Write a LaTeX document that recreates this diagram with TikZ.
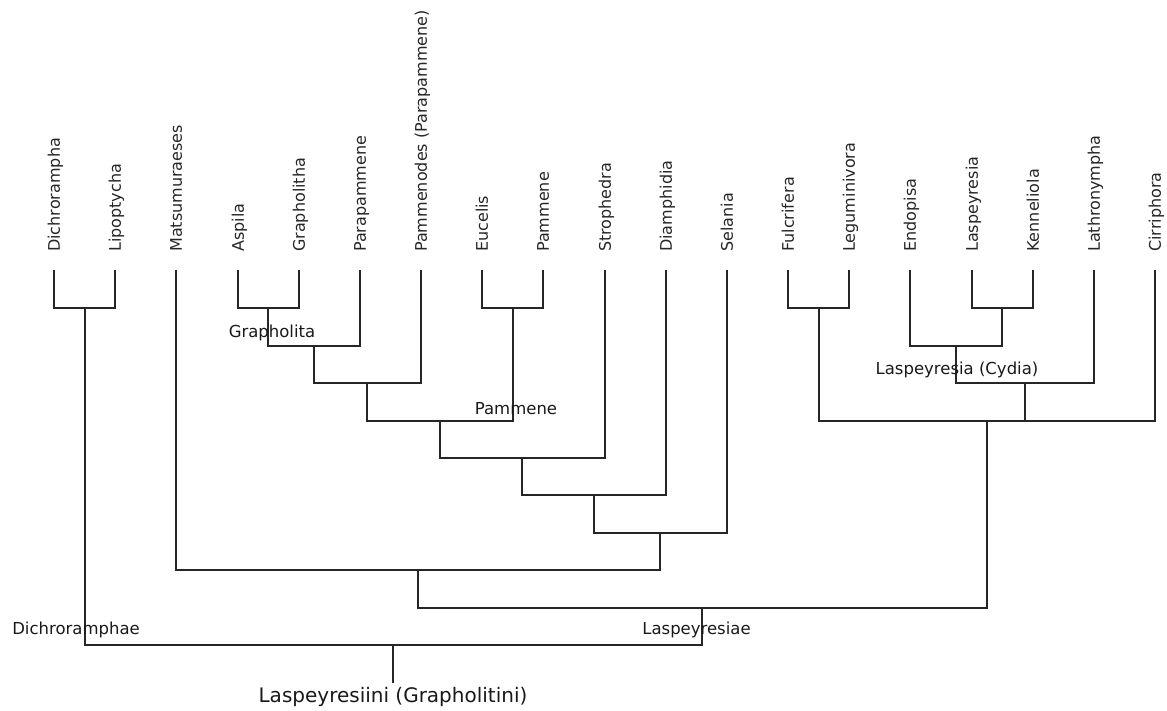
\documentclass[tikz,border=0pt]{standalone}
\usepackage{fontspec}
\newfontfamily\labfont{DejaVu Sans}
\begin{document}
\begin{tikzpicture}[x=1pt,y=-1pt,
  branch/.style={line width=1.5pt,draw=black!85},
  leaf/.style={rotate=90,anchor=base west,inner sep=0pt,font=\labfont\fontsize{16}{19}\selectfont,text=black!85},
  clade/.style={anchor=center,inner sep=0pt,font=\labfont\fontsize{16.5}{19}\selectfont,text=black!90},
  rootlab/.style={anchor=center,inner sep=0pt,font=\labfont\fontsize{20}{24}\selectfont,text=black!90}]
\useasboundingbox (0,0) rectangle (1167,711);
% leaves
\foreach \n/\x [count=\i from 0] in {Dichrorampha/54,Lipoptycha/115,Matsumuraeses/176,Aspila/238,Grapholitha/299,Parapammene/360,Pammenodes (Parapammene)/421,Eucelis/482,Pammene/543,Strophedra/605,Diamphidia/666,Selania/727,Fulcrifera/788,Leguminivora/849,Endopisa/910,Laspeyresia/972,Kenneliola/1033,Lathronympha/1094,Cirriphora/1155}{
  \coordinate (l\i) at (\x,270);
  \node[leaf] (t\i) at (\x+5.8,252) {\n};
}
% internal nodes
\coordinate (A) at (85,308);
\coordinate (G) at (268,308);
\coordinate (P) at (513,308);
\coordinate (F) at (819,308);
\coordinate (K) at (1002,308);
\coordinate (G2) at (314,346);
\coordinate (E) at (956,346);
\coordinate (G3) at (367,383);
\coordinate (C) at (1025,383);
\coordinate (G4) at (440,421);
\coordinate (R) at (987,421);
\coordinate (G5) at (522,458);
\coordinate (G6) at (594,495);
\coordinate (G7) at (660,533);
\coordinate (G8) at (418,570);
\coordinate (L) at (702,608);
\coordinate (Root) at (393,645);
\coordinate (RootEnd) at (393,683);
% branches
\draw[branch] (l0) |- (A) -| (l1);
\draw[branch] (l3) |- (G) -| (l4);
\draw[branch] (l7) |- (P) -| (l8);
\draw[branch] (l12) |- (F) -| (l13);
\draw[branch] (l15) |- (K) -| (l16);
\draw[branch] (G) |- (G2) -| (l5);
\draw[branch] (l14) |- (E) -| (K);
\draw[branch] (G2) |- (G3) -| (l6);
\draw[branch] (E) |- (C) -| (l17);
\draw[branch] (G3) |- (G4) -| (P);
\draw[branch] (F) |- (R) -| (l18);
\draw[branch] (C) -- (C |- R);
\draw[branch] (G4) |- (G5) -| (l9);
\draw[branch] (G5) |- (G6) -| (l10);
\draw[branch] (G6) |- (G7) -| (l11);
\draw[branch] (l2) |- (G8) -| (G7);
\draw[branch] (G8) |- (L) -| (R);
\draw[branch] (A) |- (Root) -| (L);
\draw[branch] (Root) -- (RootEnd);
% clade labels
\node[clade] (lg) at (272,333) {Grapholita};
\node[clade] (lp) at (516,409) {Pammene};
\node[clade] (lc) at (957,370) {Laspeyresia (Cydia)};
\node[clade] (ld) at (76,630) {Dichroramphae};
\node[clade] (ll) at (696.5,630) {Laspeyresiae};
\node[rootlab] (lr) at (393,697) {Laspeyresiini (Grapholitini)};
\end{tikzpicture}
\end{document}
